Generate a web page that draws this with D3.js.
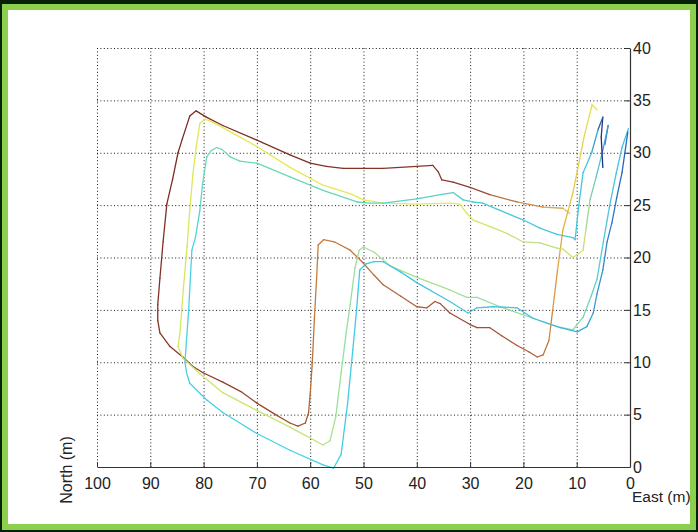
<!DOCTYPE html>
<html>
<head>
<meta charset="utf-8">
<script src="https://cdn.jsdelivr.net/npm/d3@7"></script>
<style>
	html, body { margin:0; padding:0; background:#062106; }
	svg { display:block; }
</style>
</head>
<body>
<div id="chart"></div>
<script>
"use strict";

// tick values
var eastTicks  = [100, 90, 80, 70, 60, 50, 40, 30, 20, 10, 0];
var northTicks = [0, 5, 10, 15, 20, 25, 30, 35, 40];

// runs, [east, north] in metres
var runA = [
	[11.3,24.2],[12.6,24.7],[16.3,24.8],[21.2,25.3],[26.3,26.0],[30.0,26.7],[33.2,27.2],[35.3,27.4],
	[36.0,28.2],[37.0,28.8],[40.0,28.7],[46.3,28.5],[50.0,28.5],[53.8,28.5],[57.0,28.7],[60.0,29.0],
	[63.8,29.8],[70.0,31.2],[76.4,32.6],[79.5,33.4],[81.4,34.0],[82.6,33.5],[84.0,31.3],[84.8,30.0],
	[85.8,27.5],[86.9,25.1],[87.6,21.5],[88.2,18.0],[88.6,15.5],[88.6,14.0],[88.2,12.8],[86.3,11.5],
	[83.9,10.5],[82.0,9.6],[80.1,9.0],[76.4,8.1],[73.0,7.2],[70.0,6.1],[66.5,5.0],[63.8,4.2],
	[62.3,3.9],[60.9,4.2],[60.3,5.2],[60.0,7.0],[59.6,10.0],[59.2,14.3],[58.8,18.0],[58.5,21.2],
	[57.5,21.7],[55.5,21.5],[52.5,20.7],[50.1,19.5],[48.0,18.3],[46.3,17.4],[43.0,16.3],[40.0,15.3],
	[38.1,15.2],[36.6,15.8],[35.6,15.6],[33.8,14.7],[30.0,13.6],[28.7,13.3],[26.3,13.3],[24.0,12.5],
	[21.2,11.6],[19.0,11.0],[17.4,10.5],[16.3,10.7],[15.2,12.1],[14.5,15.0],[13.6,18.8],[12.6,22.6],
	[11.6,24.5],[10.7,26.2],[9.6,29.0],[8.5,31.8],[7.1,34.6],[6.2,34.1]
];

var runB = [
	[4.7,30.8],[4.1,32.6],[5.2,30.0],[6.4,27.6],[7.5,25.5],[8.3,22.6],[8.8,20.7],[10.7,20.0],
	[12.6,20.8],[13.7,20.9],[16.9,21.4],[20.1,21.5],[23.1,22.3],[26.0,22.9],[29.5,23.6],[30.6,24.2],
	[31.9,25.1],[33.8,25.2],[40.0,25.1],[46.3,25.2],[50.0,25.5],[52.5,26.1],[57.6,26.9],[63.8,28.6],
	[70.0,30.6],[76.4,32.4],[78.6,33.0],[79.8,33.2],[80.7,32.8],[81.4,30.5],[82.0,28.0],[82.6,24.5],
	[83.1,21.0],[83.8,17.0],[84.4,13.0],[84.8,11.5],[83.9,10.4],[80.7,8.9],[76.4,7.1],[70.0,5.4],
	[63.8,3.8],[57.6,2.1],[56.3,2.5],[55.2,4.8],[54.2,9.0],[53.2,13.0],[52.5,15.5],[51.6,19.0],
	[50.8,20.7],[50.0,21.0],[48.0,20.5],[45.0,19.2],[40.0,18.1],[33.8,16.9],[30.6,16.2],[28.7,16.2],
	[24.4,15.3],[18.2,14.2],[13.7,13.4],[10.7,13.1],[8.8,14.3],[7.3,16.3],[6.2,17.9],[5.0,21.5],
	[3.8,25.0],[2.6,28.0],[1.5,30.5],[0.3,32.3]
];

var runC = [
	[5.1,28.6],[5.4,31.5],[5.1,33.4],[6.0,32.2],[7.2,30.0],[8.8,28.1],[9.6,25.0],[10.3,21.7],
	[10.7,21.9],[13.7,22.2],[16.9,22.8],[20.1,23.6],[24.4,24.5],[27.6,25.2],[29.5,25.3],[31.3,25.5],
	[33.2,26.2],[35.6,26.0],[40.0,25.6],[46.3,25.2],[48.8,25.2],[51.2,25.3],[57.6,26.4],[63.8,27.7],
	[70.0,29.0],[73.2,29.2],[75.0,29.6],[76.5,30.3],[77.5,30.5],[78.6,30.2],[79.4,29.6],[80.2,27.0],
	[80.7,24.5],[81.5,22.0],[82.2,20.7],[82.8,15.0],[83.5,10.0],[83.2,9.0],[82.6,8.0],[79.4,6.4],
	[76.4,5.2],[70.0,3.2],[63.8,1.6],[57.6,0.2],[55.6,-0.1],[54.2,1.2],[53.0,6.0],[52.0,11.2],
	[51.3,15.0],[50.7,18.8],[49.5,19.4],[48.0,19.6],[46.3,19.6],[43.0,18.6],[40.0,17.6],[33.8,15.8],
	[30.4,14.7],[28.7,15.2],[25.7,15.3],[21.2,15.2],[18.2,14.2],[13.1,13.3],[9.9,12.9],[8.1,13.4],
	[6.9,14.7],[6.2,16.5],[5.1,18.8],[4.3,21.5],[3.4,23.3],[2.5,25.7],[1.5,28.1],[0.4,32.0]
];

var runs = [runA, runB, runC];

// colour stops along each run: [point index, colour]
var runColours = [
	[[0,"#e8d060"],[3,"#c88048"],[5,"#8c3a2a"],[22,"#7a2a22"],[33,"#8a3a2a"],[41,"#a8582e"],
	 [46,"#c88038"],[50,"#c07840"],[60,"#9a4a38"],[66,"#b0603a"],[70,"#e0a040"],[73,"#e8c848"],[77,"#e8e850"]],
	[[0,"#3050b0"],[2,"#40c0e0"],[6,"#e0e060"],[10,"#b8e088"],[16,"#e8e850"],[26,"#e6e850"],
	 [40,"#c8e470"],[44,"#90e0a0"],[52,"#a8e090"],[59,"#88dca8"],[63,"#50c8d8"],[67,"#40c0e0"]],
	[[0,"#1a2a80"],[2,"#203c98"],[4,"#40c8e0"],[12,"#48c8d8"],[22,"#68d8b8"],[30,"#70dcb0"],
	 [33,"#50d0e0"],[45,"#40d0e8"],[50,"#40c8e0"],[60,"#48c0e0"],[65,"#3898d0"],[70,"#2468c0"],[73,"#3070c0"]]
];

var W = 698, H = 532;
var plotLeft = 97, plotRight = 630, plotTop = 48, plotBottom = 467;

var svg = d3.select("#chart")
			.append("svg")
			.attr("width", W)
			.attr("height", H);

// frame
svg.append("rect")
	.attr("x", 0).attr("y", 0)
	.attr("width", W).attr("height", H)
	.style("fill", "#062106");

svg.append("rect")
	.attr("x", 2).attr("y", 4)
	.attr("width", W - 4).attr("height", H - 6)
	.style("fill", "#8ccf4c");

svg.append("rect")
	.attr("x", 8).attr("y", 10)
	.attr("width", W - 16).attr("height", H - 18)
	.style("fill", "white");

var x = d3.scaleLinear().domain([100, 0]).range([plotLeft, plotRight]);
var y = d3.scaleLinear().domain([0, 40]).range([plotBottom, plotTop]);

// dotted grid
var grid = svg.append("g").attr("class", "grid");

grid.selectAll("line.vg")
	.data(eastTicks.filter(function(d){return d !== 0}))
	.enter()
	.append("line")
	.attr("class", "vg")
	.attr("x1", function(d){return x(d) + 0.5})
	.attr("x2", function(d){return x(d) + 0.5})
	.attr("y1", y(40))
	.attr("y2", y(0))
	.style("stroke", "#1a1a1a")
	.style("stroke-width", 1)
	.style("stroke-dasharray", "1,2.4");

grid.selectAll("line.hg")
	.data(northTicks.filter(function(d){return d !== 0}))
	.enter()
	.append("line")
	.attr("class", "hg")
	.attr("x1", x(100))
	.attr("x2", x(0))
	.attr("y1", function(d){return y(d) + 0.5})
	.attr("y2", function(d){return y(d) + 0.5})
	.style("stroke", "#1a1a1a")
	.style("stroke-width", 1)
	.style("stroke-dasharray", "1,2.4");

// runs, drawn segment by segment so the colour can drift along the path
var runLayer = svg.append("g").attr("class", "runs");

runs.forEach(function(pts, r){
	var stops = runColours[r];
	var colourAt = function(t){
		for (var k = 0; k < stops.length - 1; k++){
			if (t <= stops[k+1][0]){
				var span = stops[k+1][0] - stops[k][0];
				var f = span ? (t - stops[k][0]) / span : 0;
				return d3.interpolateRgb(stops[k][1], stops[k+1][1])(Math.max(0, Math.min(1, f)));
			}
		}
		return stops[stops.length-1][1];
	};
	var segs = d3.pairs(pts);
	runLayer.selectAll("line.r" + r)
		.data(segs)
		.enter()
		.append("line")
		.attr("class", "r" + r)
		.attr("x1", function(d){return x(d[0][0])})
		.attr("y1", function(d){return y(d[0][1])})
		.attr("x2", function(d){return x(d[1][0])})
		.attr("y2", function(d){return y(d[1][1])})
		.style("stroke", function(d,i){return colourAt(i + 0.5)})
		.style("stroke-width", 1.3)
		.style("stroke-linecap", "round");
});

// axes
var xAxis = d3.axisBottom(x)
				.tickValues(eastTicks)
				.tickSizeInner(-5)
				.tickSizeOuter(0)
				.tickPadding(11);

var yAxis = d3.axisRight(y)
				.tickValues(northTicks)
				.tickSizeInner(-5)
				.tickSizeOuter(0)
				.tickPadding(3);

var gx = svg.append("g")
			.attr("transform", "translate(0," + plotBottom + ")")
			.call(xAxis);

var gy = svg.append("g")
			.attr("transform", "translate(" + plotRight + ",0)")
			.call(yAxis);

[gx, gy].forEach(function(g){
	g.selectAll("path.domain").style("stroke", "#333").style("stroke-width", 1.2);
	g.selectAll(".tick line").style("stroke", "#333");
	g.selectAll("text")
		.style("font-family", "'Liberation Sans', Arial, sans-serif")
		.style("font-size", "16px")
		.style("fill", "#222");
});

// the "0" east label sits just above this one, as in the original
svg.append("text")
	.attr("x", 632)
	.attr("y", 502)
	.style("font-family", "'Liberation Sans', Arial, sans-serif")
	.style("font-size", "15.5px")
	.style("fill", "#222")
	.text("East (m)");

svg.append("text")
	.attr("transform", "translate(72,470) rotate(-90)")
	.attr("text-anchor", "middle")
	.style("font-family", "'Liberation Sans', Arial, sans-serif")
	.style("font-size", "16px")
	.style("fill", "#222")
	.text("North (m)");
</script>
</body>
</html>
